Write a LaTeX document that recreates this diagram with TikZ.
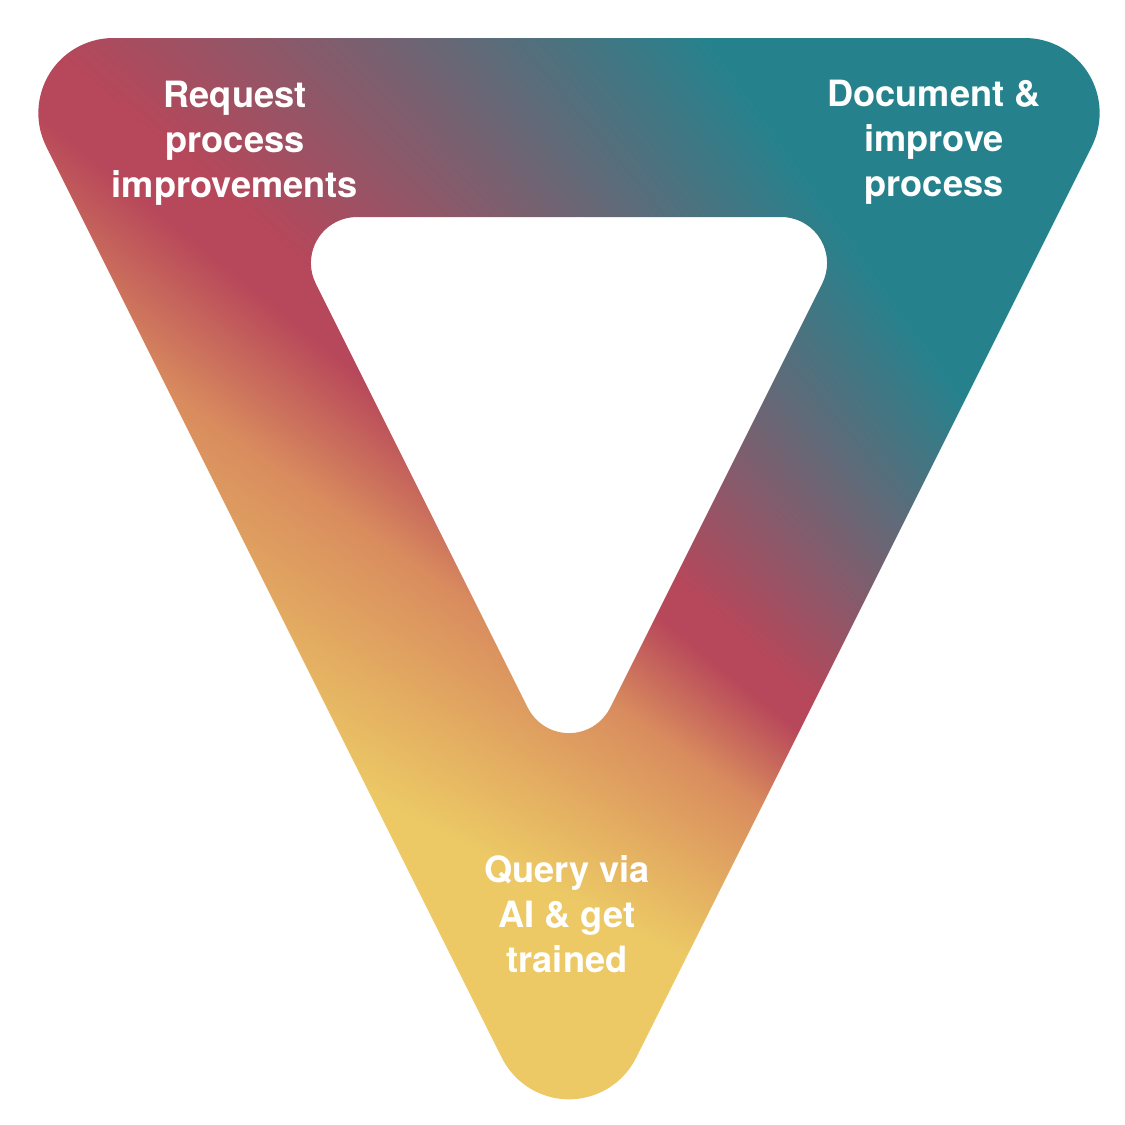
\documentclass[tikz,border=0pt]{standalone}
\usepackage{fontspec}
\setsansfont{TeX Gyre Heros}
\usetikzlibrary{calc}

% fan-shaped fade: yellow -> orange -> red -> teal, by angle round a far point
\pgfdeclarefunctionalshading{ringfan}{\pgfpointorigin}{\pgfpoint{100bp}{100bp}}{}{
  8.33 sub exch 102.78 sub atan
  dup 153 ge {pop 0.925 0.788 0.396}
  {dup 145 ge {145 sub 8 div dup dup 0.074 mul 0.851 add 3 1 roll 0.239 mul 0.549 add exch 0.027 mul 0.369 add}
  {dup 141 ge {141 sub 4 div dup dup 0.133 mul 0.718 add 3 1 roll 0.271 mul 0.278 add exch 0.016 mul 0.353 add}
  {dup 139.5 ge {pop 0.718 0.278 0.353}
  {dup 125.5 ge {125.5 sub 14 div dup dup 0.573 mul 0.145 add 3 1 roll -0.232 mul 0.510 add exch -0.200 mul 0.553 add}
  {pop 0.145 0.510 0.553} ifelse} ifelse} ifelse} ifelse} ifelse
}

% rounded triangle from its three corner centres and radius
\newcommand{\roundtri}[4]{($(#1)+(90:#4)$) -- ($(#2)+(90:#4)$)
  arc[start angle=90, end angle=-26.565, radius=#4]
  -- ($(#3)+(-26.565:#4)$) arc[start angle=-26.565, end angle=-153.435, radius=#4]
  -- ($(#1)+(206.565:#4)$) arc[start angle=206.565, end angle=90, radius=#4] -- cycle}

\tikzset{steplabel/.style={text=white, align=center, inner sep=0pt,
    font=\sffamily\bfseries\fontsize{10.3}{12.8}\selectfont}}

\begin{document}
\begin{tikzpicture}
    \useasboundingbox (0,0) rectangle (11.25,-11.25);
    \coordinate (otl) at (1.1335,-1.13);
    \coordinate (otr) at (10.2465,-1.13);
    \coordinate (obot) at (5.69,-10.243);
    \coordinate (itl) at (3.5693,-2.63);
    \coordinate (itr) at (7.8107,-2.63);
    \coordinate (ibot) at (5.69,-6.8714);
    \begin{scope}[even odd rule]
        \clip \roundtri{otl}{otr}{obot}{0.75} \roundtri{itl}{itr}{ibot}{0.46};
        \shade[shading=ringfan] (0,0) rectangle (11.25,-11.25);
    \end{scope}
    \node[steplabel] (request) at (2.35,-1.43) {Request\\process\\improvements};
    \node[steplabel] (document) at (9.34,-1.42) {Document \&\\improve\\process};
    \node[steplabel] (query) at (5.67,-9.145) {Query via\\AI \& get\\trained};
\end{tikzpicture}
\end{document}
